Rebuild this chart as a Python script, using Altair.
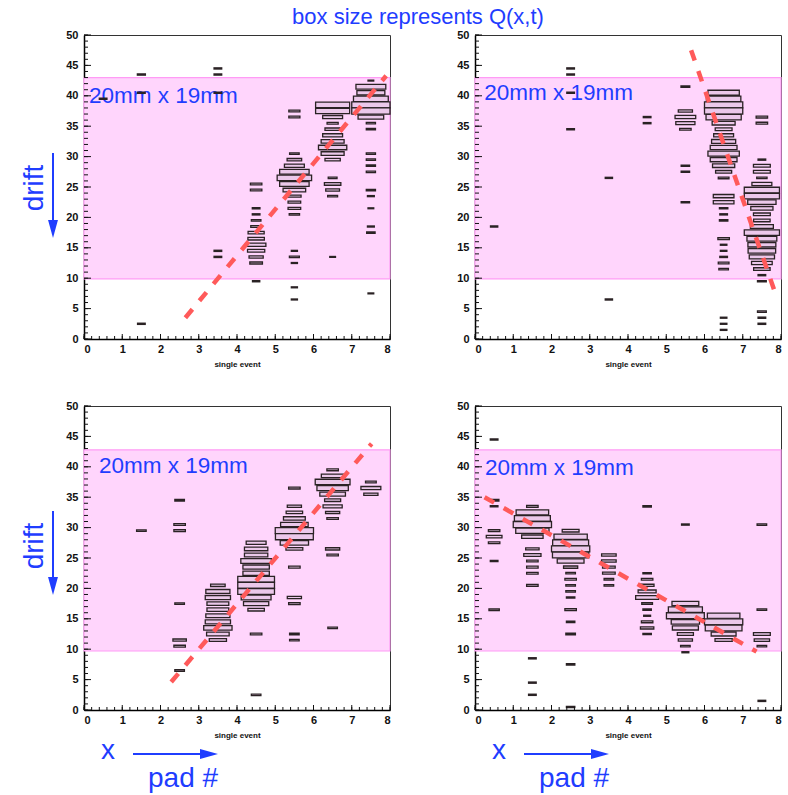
import altair as alt
import pandas as pd

# ---------------- data (pad index, drift bin lower edge, relative box size) ----------------
P1_PAD = [0,
          1, 1, 1,
          3, 3, 3, 3, 3,
          4, 4, 4, 4, 4, 4, 4, 4, 4, 4, 4, 4, 4,
          5, 5, 5, 5, 5, 5, 5, 5, 5, 5, 5, 5, 5, 5, 5, 5, 5, 5,
          6, 6, 6, 6, 6, 6, 6, 6, 6, 6, 6, 6, 6, 6, 6,
          7, 7, 7, 7, 7, 7, 7, 7, 7, 7, 7, 7, 7, 7, 7, 7, 7, 7, 7]
P1_BIN = [39,
          43, 40, 2,
          44, 43, 40, 14, 13,
          25, 24, 21, 20, 19, 18, 17, 16, 15, 14, 13, 12, 9,
          37, 36, 30, 29, 28, 27, 26, 25, 24, 23, 22, 21, 20, 14, 13, 12, 8, 6,
          38, 37, 36, 35, 34, 33, 32, 31, 30, 29, 26, 25, 24, 23, 13,
          42, 41, 40, 39, 38, 37, 36, 35, 34, 30, 29, 28, 27, 24, 23, 21, 18, 17, 7]
P1_SIZE = [0.2,
           0.21, 0.2, 0.2,
           0.2, 0.2, 0.2, 0.2, 0.2,
           0.3, 0.3, 0.2, 0.2, 0.25, 0.28, 0.42, 0.43, 0.51, 0.45, 0.37, 0.33, 0.19,
           0.29, 0.29, 0.25, 0.38, 0.52, 0.77, 0.9, 0.77, 0.59, 0.35, 0.33, 0.33, 0.27, 0.16, 0.26, 0.16, 0.16, 0.16,
           0.89, 0.89, 0.52, 0.29, 0.4, 0.52, 0.6, 0.74, 0.6, 0.4, 0.23, 0.43, 0.36, 0.26, 0.15,
           0.15, 0.78, 0.73, 0.91, 1.0, 1.0, 0.67, 0.24, 0.24, 0.24, 0.24, 0.24, 0.24, 0.24, 0.18, 0.15, 0.18, 0.22, 0.15]

P2_PAD = [0,
          2, 2, 2, 2,
          3, 3,
          4, 4,
          5, 5, 5, 5, 5, 5, 5, 5,
          6, 6, 6, 6, 6, 6, 6, 6, 6, 6, 6, 6, 6, 6, 6, 6, 6, 6, 6, 6, 6, 6, 6, 6, 6, 6, 6, 6, 6,
          7, 7, 7, 7, 7, 7, 7, 7, 7, 7, 7, 7, 7, 7, 7, 7, 7, 7, 7, 7, 7, 7, 7, 7, 7, 7]
P2_BIN = [18,
          44, 43, 40, 34,
          26, 6,
          36, 35,
          41, 37, 36, 35, 34, 28, 27, 22,
          40, 39, 38, 37, 36, 35, 34, 33, 32, 31, 30, 29, 28, 27, 26, 23, 22, 21, 20, 19, 16, 15, 14, 13, 12, 11, 3, 2, 1,
          36, 35, 29, 28, 27, 26, 25, 24, 23, 22, 21, 20, 19, 18, 17, 16, 15, 14, 13, 12, 11, 10, 9, 4, 3, 2]
P2_SIZE = [0.19,
           0.2, 0.2, 0.2, 0.2,
           0.19, 0.19,
           0.2, 0.2,
           0.23, 0.37, 0.54, 0.5, 0.3, 0.22, 0.22, 0.22,
           0.82, 0.9, 1.0, 1.0, 0.92, 0.6, 0.44, 0.52, 0.63, 0.7, 0.82, 0.7, 0.58, 0.42, 0.28, 0.54, 0.54, 0.22, 0.2, 0.22, 0.3, 0.17, 0.17, 0.2, 0.28, 0.25, 0.17, 0.17, 0.17,
           0.3, 0.3, 0.2, 0.44, 0.44, 0.27, 0.52, 0.92, 0.92, 0.74, 0.58, 0.44, 0.43, 0.6, 0.92, 0.78, 0.73, 0.72, 0.66, 0.54, 0.43, 0.2, 0.23, 0.23, 0.2, 0.2]

P3_PAD = [1,
          2, 2, 2, 2, 2, 2, 2,
          3, 3, 3, 3, 3, 3, 3, 3, 3, 3,
          4, 4, 4, 4, 4, 4, 4, 4, 4, 4, 4, 4, 4, 4,
          5, 5, 5, 5, 5, 5, 5, 5, 5, 5, 5, 5, 5, 5,
          6, 6, 6, 6, 6, 6, 6, 6, 6, 6, 6, 6,
          7, 7, 7]
P3_BIN = [29,
          34, 30, 29, 17, 11, 10, 6,
          20, 19, 18, 17, 16, 15, 14, 13, 12, 11,
          27, 26, 25, 24, 23, 22, 21, 20, 19, 18, 17, 16, 12, 2,
          36, 33, 32, 31, 30, 29, 28, 27, 26, 23, 18, 17, 12, 11,
          39, 38, 37, 36, 35, 34, 33, 32, 31, 26, 25, 13,
          37, 36, 35]
P3_SIZE = [0.25,
           0.25, 0.3, 0.3, 0.25, 0.35, 0.3, 0.25,
           0.38, 0.63, 0.66, 0.57, 0.57, 0.63, 0.66, 0.74, 0.59, 0.45,
           0.52, 0.61, 0.61, 0.8, 0.69, 0.69, 0.96, 0.96, 0.96, 0.78, 0.66, 0.43, 0.3, 0.25,
           0.3, 0.37, 0.43, 0.57, 0.72, 1.0, 0.99, 0.74, 0.44, 0.3, 0.37, 0.3, 0.25, 0.25,
           0.3, 0.59, 0.91, 0.82, 0.67, 0.42, 0.5, 0.37, 0.3, 0.37, 0.3, 0.25,
           0.28, 0.52, 0.37]

P4_PAD = [0, 0, 0, 0, 0, 0, 0, 0,
          1, 1, 1, 1, 1, 1, 1, 1, 1, 1, 1, 1, 1, 1, 1,
          2, 2, 2, 2, 2, 2, 2, 2, 2, 2, 2, 2, 2, 2, 2, 2, 2,
          3, 3, 3, 3, 3, 3,
          4, 4, 4, 4, 4, 4, 4, 4, 4, 4, 4, 4,
          5, 5, 5, 5, 5, 5, 5, 5, 5, 5,
          6, 6, 6, 6, 6,
          7, 7, 7, 7, 7, 7]
P4_BIN = [44, 34, 33, 29, 28, 27, 24, 16,
          33, 32, 31, 30, 29, 28, 26, 25, 24, 23, 22, 20, 8, 4, 2,
          29, 28, 27, 26, 25, 24, 23, 22, 21, 20, 19, 18, 16, 14, 12, 7, 0,
          25, 24, 23, 22, 21, 20,
          33, 22, 21, 20, 19, 18, 17, 16, 15, 14, 13, 12,
          30, 17, 16, 15, 14, 13, 12, 11, 10, 9,
          15, 14, 13, 12, 11,
          30, 16, 12, 11, 10, 1]
P4_SIZE = [0.2, 0.25, 0.2, 0.3, 0.41, 0.3, 0.2, 0.27,
           0.3, 0.85, 0.94, 1.0, 0.87, 0.56, 0.35, 0.45, 0.3, 0.3, 0.3, 0.3, 0.2, 0.2, 0.2,
           0.44, 0.87, 0.94, 1.0, 0.95, 0.7, 0.37, 0.25, 0.3, 0.25, 0.25, 0.22, 0.3, 0.22, 0.25, 0.22, 0.22,
           0.38, 0.38, 0.33, 0.33, 0.25, 0.25,
           0.22, 0.22, 0.3, 0.36, 0.47, 0.6, 0.28, 0.22, 0.18, 0.3, 0.35, 0.22,
           0.2, 0.7, 0.89, 0.99, 0.74, 0.68, 0.42, 0.37, 0.25, 0.18,
           0.85, 1.0, 0.96, 0.65, 0.45,
           0.25, 0.25, 0.44, 0.4, 0.25, 0.2]

# fitted tracks (red dashed lines): end points
P1_LINE_X, P1_LINE_Y = [2.65, 7.9], [3.5, 43.3]
P2_LINE_X, P2_LINE_Y = [5.65, 7.88], [47.5, 7.0]
P3_LINE_X, P3_LINE_Y = [2.28, 7.52], [4.6, 43.8]
P4_LINE_X, P4_LINE_Y = [0.25, 7.36], [35.0, 9.6]

# sensitive drift window (pink band)
P1_BAND = [9.9, 43.0]
P2_BAND = [9.9, 43.0]
P3_BAND = [9.7, 42.8]
P4_BAND = [9.7, 42.8]

# "20mm x 19mm" label anchor in data units
P1_LABEL = [0.13, 38.8]
P2_LABEL = [0.24, 39.3]
P3_LABEL = [0.39, 38.9]
P4_LABEL = [0.26, 38.7]

PAD_TICKS = [0, 1, 2, 3, 4, 5, 6, 7, 8]
PAD_MINOR = [i / 5 for i in range(41)]
DRIFT_TICKS = [0, 5, 10, 15, 20, 25, 30, 35, 40, 45, 50]
DRIFT_MINOR = list(range(51))

TITLE_TEXT = "box size represents Q(x,t)"
SIZE_TEXT = "20mm x 19mm"
X_TITLE = "single event"
DRIFT_TEXT = "drift"
X_TEXT = "x"
PAD_TEXT = "pad #"

BLUE = "#1f3dff"
W, H = 306, 304

xscale = alt.Scale(domain=[0, 8], nice=False, zero=False)
yscale = alt.Scale(domain=[0, 50], nice=False, zero=False)
xaxis = alt.Axis(values=PAD_TICKS, ticks=False, grid=False, title=X_TITLE,
                 labelFontSize=11, labelFontWeight="bold", labelColor="#111",
                 labelFont="Liberation Sans", labelPadding=4,
                 domainColor="#000", domainWidth=1.5,
                 titleFontSize=8, titleFontWeight="bold", titleColor="#111",
                 titleFont="Liberation Sans", titlePadding=6)
yaxis = alt.Axis(values=DRIFT_TICKS, ticks=False, grid=False, title=None,
                 labelFontSize=11, labelFontWeight="bold", labelColor="#111",
                 labelFont="Liberation Sans", labelPadding=6,
                 domainColor="#000", domainWidth=1.5)


def X(field):
    return alt.X(field, type="quantitative", scale=xscale, axis=xaxis)


def Y(field):
    return alt.Y(field, type="quantitative", scale=yscale, axis=yaxis)


def txt(s):
    return pd.DataFrame({"t": [s]})


def panel(pads, bins, sizes, lx, ly, band, label, drift=None, bottom=False, title=False):
    boxes = pd.DataFrame({"pad": pads, "bin": bins, "s": sizes})
    boxes["x1"] = boxes["pad"] + 0.5 - boxes["s"] / 2
    boxes["x2"] = boxes["pad"] + 0.5 + boxes["s"] / 2
    boxes["y1"] = boxes["bin"] + 0.5 - boxes["s"] / 2
    boxes["y2"] = boxes["bin"] + 0.5 + boxes["s"] / 2

    band_df = pd.DataFrame({"x1": [0], "x2": [8], "y1": [band[0]], "y2": [band[1]]})
    band_l = alt.Chart(band_df).mark_rect(fill="#ffd5fc", stroke="#ff9cf5", strokeWidth=1.2).encode(
        x=X("x1"), x2="x2", y=Y("y1"), y2="y2")

    lab_df = pd.DataFrame({"x": [label[0]], "y": [label[1]], "t": [SIZE_TEXT]})
    lab_l = alt.Chart(lab_df).mark_text(align="left", baseline="alphabetic", fontSize=22.5,
                                        font="Liberation Sans", color=BLUE).encode(
        x=X("x"), y=Y("y"), text="t:N")

    box_l = alt.Chart(boxes).mark_rect(fill="#ebc8ea", stroke="#2a2224", strokeWidth=1.3).encode(
        x=X("x1"), x2="x2", y=Y("y1"), y2="y2")

    line_df = pd.DataFrame({"x": lx, "y": ly})
    line_l = alt.Chart(line_df).mark_line(color="#ff5a5a", strokeWidth=4.5, strokeDash=[11, 11],
                                          strokeCap="butt").encode(x=X("x"), y=Y("y"))

    xmaj = alt.Chart(pd.DataFrame({"v": PAD_TICKS})).mark_rule(color="#111", strokeWidth=1).encode(
        x=X("v"), y=alt.value(H), y2=alt.value(H - 5))
    xmin = alt.Chart(pd.DataFrame({"v": PAD_MINOR})).mark_rule(color="#111", strokeWidth=1).encode(
        x=X("v"), y=alt.value(H), y2=alt.value(H - 3))
    ymaj = alt.Chart(pd.DataFrame({"v": DRIFT_TICKS})).mark_rule(color="#111", strokeWidth=1).encode(
        y=Y("v"), x=alt.value(0), x2=alt.value(7))
    ymin = alt.Chart(pd.DataFrame({"v": DRIFT_MINOR})).mark_rule(color="#111", strokeWidth=1).encode(
        y=Y("v"), x=alt.value(0), x2=alt.value(4))

    layers = [band_l, lab_l, box_l, line_l, xmaj, xmin, ymaj, ymin]

    if title:
        layers.append(alt.Chart(txt(TITLE_TEXT)).mark_text(
            align="center", baseline="alphabetic", fontSize=22, font="Liberation Sans", color=BLUE
        ).encode(x=alt.value(334), y=alt.value(-11), text="t:N"))
        # invisible anchor fixing the top-left corner of the figure
        layers.append(alt.Chart(txt("")).mark_rule(color="white", strokeWidth=1).encode(
            x=alt.value(-82.5), x2=alt.value(-82), y=alt.value(-33.5)))

    if drift is not None:
        top, tip, tcy = drift
        layers.append(alt.Chart(txt(DRIFT_TEXT)).mark_text(
            align="center", baseline="middle", angle=270, fontSize=28, font="Liberation Sans", color=BLUE
        ).encode(x=alt.value(-49), y=alt.value(tcy), text="t:N"))
        layers.append(alt.Chart(txt("")).mark_rule(color=BLUE, strokeWidth=2).encode(
            x=alt.value(-31), y=alt.value(top), y2=alt.value(tip - 14)))
        layers.append(alt.Chart(txt("")).mark_point(
            shape="M-0.55,-1L0.55,-1L0,1Z", size=324, filled=True, fill=BLUE, opacity=1, strokeWidth=0
        ).encode(x=alt.value(-31), y=alt.value(tip - 9)))

    if bottom:
        layers.append(alt.Chart(txt(X_TEXT)).mark_text(
            align="left", baseline="alphabetic", fontSize=28, font="Liberation Sans", color=BLUE
        ).encode(x=alt.value(17), y=alt.value(353), text="t:N"))
        layers.append(alt.Chart(txt(PAD_TEXT)).mark_text(
            align="left", baseline="alphabetic", fontSize=28, font="Liberation Sans", color=BLUE
        ).encode(x=alt.value(64), y=alt.value(381), text="t:N"))
        layers.append(alt.Chart(txt("")).mark_rule(color=BLUE, strokeWidth=2).encode(
            x=alt.value(49), x2=alt.value(121), y=alt.value(348)))
        layers.append(alt.Chart(txt("")).mark_point(
            shape="M-1,-0.55L-1,0.55L1,0Z", size=324, filled=True, fill=BLUE, opacity=1, strokeWidth=0
        ).encode(x=alt.value(125), y=alt.value(348)))

    return alt.layer(*layers).properties(width=W, height=H)


p1 = panel(P1_PAD, P1_BIN, P1_SIZE, P1_LINE_X, P1_LINE_Y, P1_BAND, P1_LABEL,
           drift=(118, 203, 153), title=True)
p2 = panel(P2_PAD, P2_BIN, P2_SIZE, P2_LINE_X, P2_LINE_Y, P2_BAND, P2_LABEL)
p3 = panel(P3_PAD, P3_BIN, P3_SIZE, P3_LINE_X, P3_LINE_Y, P3_BAND, P3_LABEL,
           drift=(105, 189, 140), bottom=True)
p4 = panel(P4_PAD, P4_BIN, P4_SIZE, P4_LINE_X, P4_LINE_Y, P4_BAND, P4_LABEL, bottom=True)

chart = alt.concat(
    p1, p2, p3, p4, columns=2,
    spacing=alt.RowColnumber(row=67, column=85), bounds="flush",
).properties(padding=0, background="white").configure_view(stroke="#333", strokeWidth=1)

chart.save("out.html", embed_options={"renderer": "svg", "actions": False})
